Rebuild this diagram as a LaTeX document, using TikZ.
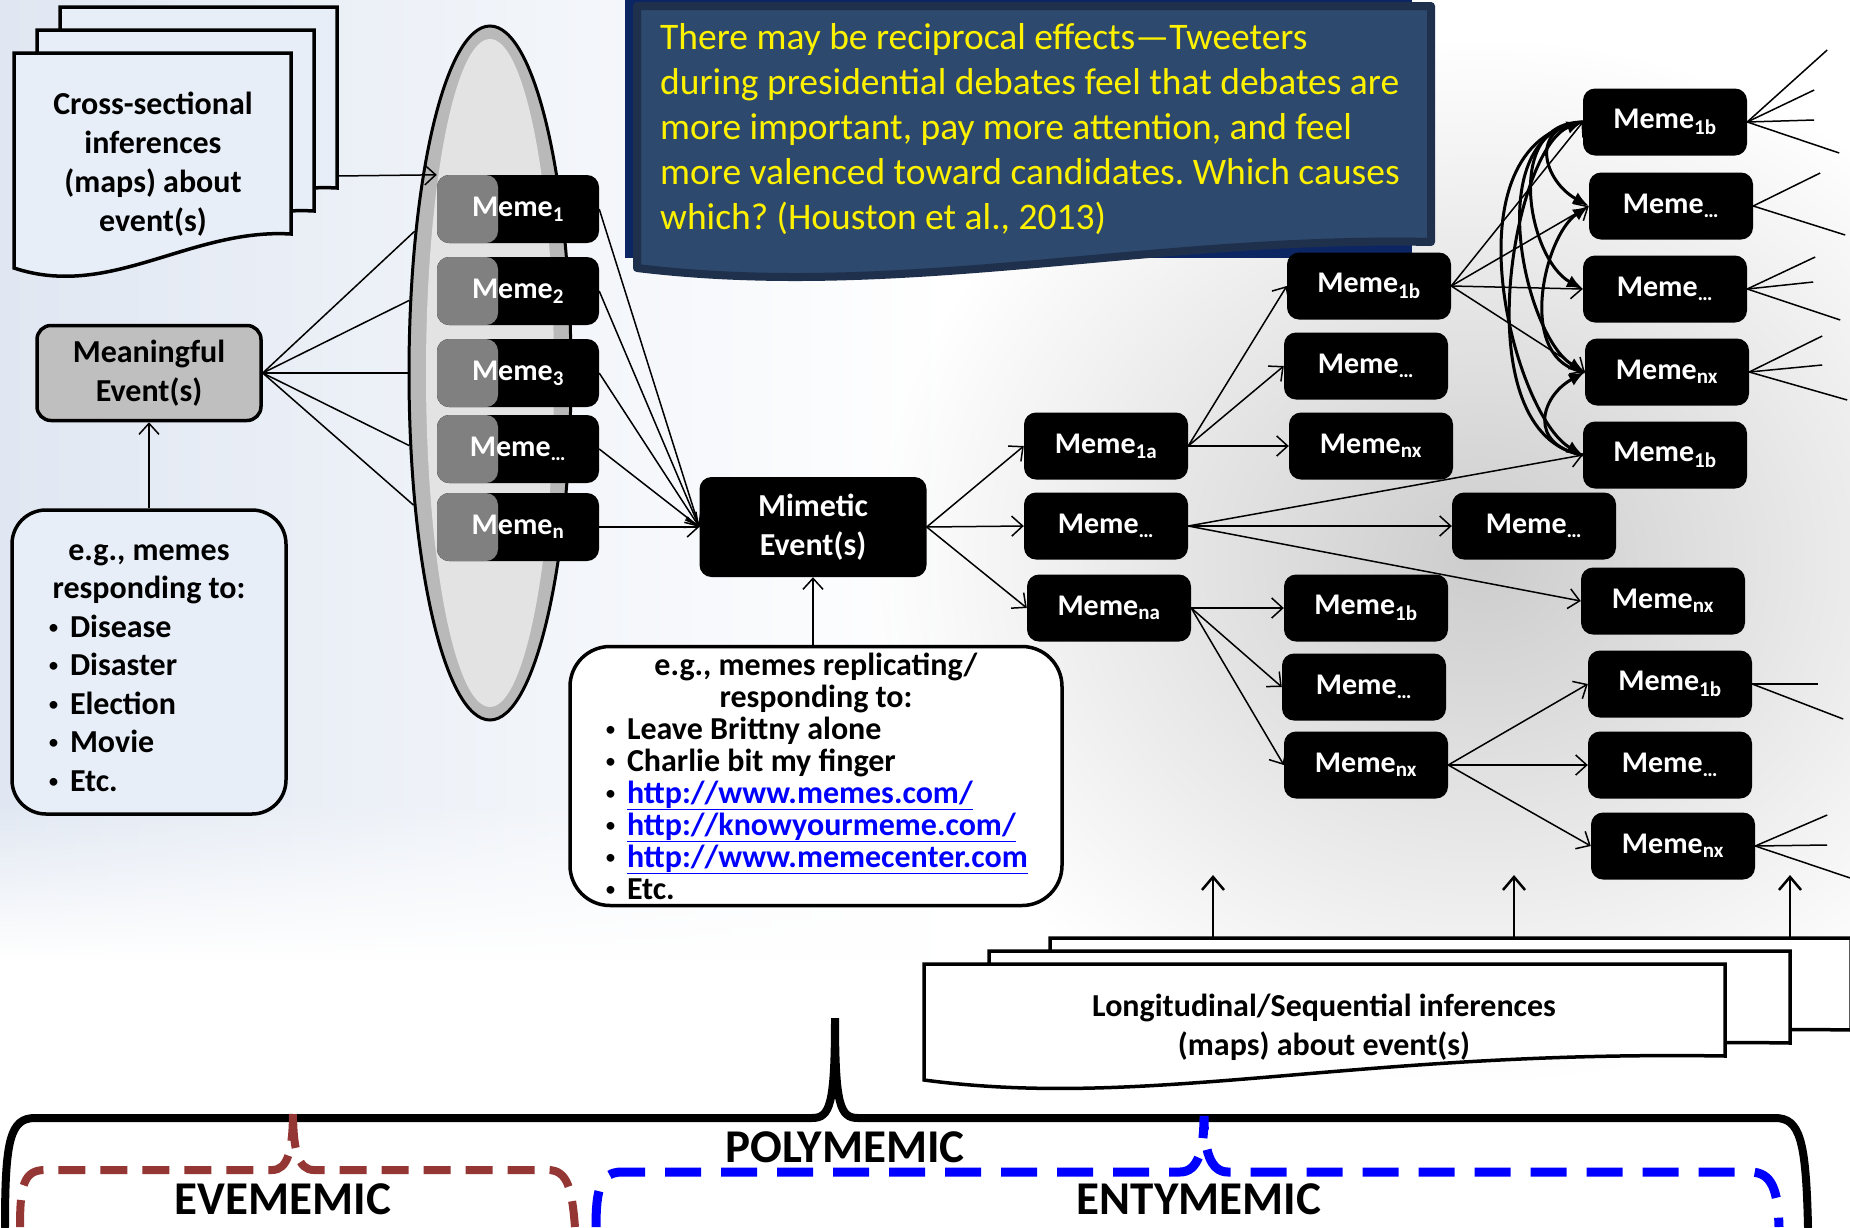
\documentclass[tikz,border=0pt]{standalone}
\usepackage{fontspec}
\setmainfont{Carlito}
\usetikzlibrary{arrows.meta, positioning, calc, shapes.geometric, fadings}
\frenchspacing

\definecolor{bgblue}{RGB}{224,231,242}
\definecolor{bggray}{RGB}{205,205,205}
\definecolor{sheetfill}{RGB}{232,238,247}
\definecolor{calloutfill}{RGB}{45,73,109}
\definecolor{calloutedge}{RGB}{30,48,76}
\definecolor{calloutback}{RGB}{12,38,100}
\definecolor{evebrown}{RGB}{148,54,52}
\definecolor{urlblue}{RGB}{0,0,255}
\definecolor{meaninggray}{RGB}{191,191,191}
\definecolor{memegray}{RGB}{128,128,128}

\tikzfading[name=softblob, inner color=transparent!0, outer color=transparent!100]
\tikzfading[name=fadeup, top color=transparent!100, bottom color=transparent!0]

\newcommand\memefont{\fontsize{30}{36}\selectfont\bfseries}
\newcommand\boxfont{\fontsize{32}{39}\selectfont\bfseries}
\newcommand\bracefont{\fontsize{47}{50}\selectfont\bfseries}
\newcommand\bul{\hspace*{24pt}\makebox[22pt][l]{\raisebox{3pt}{\fontsize{22}{22}\selectfont\mdseries\textbullet}}}
\newcommand\memesub[1]{Meme\textsubscript{#1}}
\newcommand\weblink[1]{\textcolor{urlblue}{\underline{#1}}}

\begin{document}
\begin{tikzpicture}[x=1pt, y=-1pt,
  meme/.style = {fill=black, text=white, rounded corners=12pt, minimum width=164pt,
    minimum height=67pt, inner sep=0pt, font=\memefont},
  ellmeme/.style = {meme, minimum width=162pt, minimum height=68pt,
    path picture={\fill[memegray] (path picture bounding box.south west)
      rectangle ([xshift=61pt]path picture bounding box.north west);}},
  link/.style = {line width=1.5pt, -{Straight Barb[length=11pt, width=20pt]}},
  spoke/.style = {line width=1.5pt},
  swirl/.style = {line width=3pt, -{Latex[length=16pt, width=13pt]}},
  uparrow/.style = {line width=2.5pt, -{Straight Barb[length=13pt, width=22pt]}},
  sheet/.style = {draw, line width=3.5pt, fill=white},
  egbox/.style = {draw, line width=3.5pt, rounded corners=34pt, inner sep=0pt, font=\boxfont},
  polybrace/.style = {line width=8pt, line cap=round}
]

% background
\useasboundingbox (0,0) rectangle (1850,1227);
\clip (0,0) rectangle (1850,1227);
\fill[white] (0,0) rectangle (1850,1227);
\shade[left color=bgblue, right color=white] (0,0) rectangle (950,1000);
\fill[bggray, path fading=softblob] (1480,560) ellipse (600 and 520);
\fill[white, path fading=fadeup] (0,800) rectangle (960,960);
\fill[white] (0,960) rectangle (960,1227);

% callout
\fill[calloutback] (625,0) rectangle (1412,258);
\draw[calloutedge, line width=8pt, fill=calloutfill, line join=round]
  (637,6) -- (1431,6) -- (1431,242) .. controls (1150,236) and (900,300) .. (637,268) -- cycle;
\node[anchor=north west, inner sep=0pt, text=yellow, align=left,
  font=\fontsize{37.5}{45}\selectfont] (callout) at (660,23) {There may be reciprocal effects---Tweeters\\
  during presidential debates feel that debates are\\
  more important, pay more attention, and feel\\
  more valenced toward candidates. Which causes\\
  which? (Houston et al., 2013)};

% cross-sectional document stack
\foreach \s in {46,23,0}
  \draw[sheet, fill=sheetfill, shift={(\s,-\s)}] (14,53) -- (291,53) -- (291,234)
    .. controls (190,228) and (110,300) .. (14,268) -- cycle;
\node[font=\boxfont, align=center] (crossdoc) at (153,164) {Cross-sectional\\inferences\\(maps) about\\event(s)};

% ellipse of memes
\node[ellipse, draw, line width=3pt, fill=gray!55, minimum width=162pt,
  minimum height=694pt, inner sep=0pt] (ell) at (490,373) {};
\fill[gray!22] (ell.center) ellipse (64 and 334);
\foreach \n/\y/\s in {1/209/1, 2/291/2, 3/373/3, 4/449/…, 5/527/n}
  \node[ellmeme] (m\n) at (518,\y) {\memesub{\s}};

% meaningful event and its examples
\node[draw, line width=3.5pt, fill=meaninggray, rounded corners=14pt, minimum width=224pt,
  minimum height=95pt, align=center, font=\boxfont] (meaning) at (149,373) {Meaningful\\Event(s)};
\node[egbox, fill=sheetfill, minimum width=274pt, minimum height=304pt] (egleft) at (149,662)
  {\begin{minipage}{250pt}\vspace*{12pt}\setlength\baselineskip{38.5pt}\centering e.g., memes\\responding to:\par
   \raggedright\bul Disease\\\bul Disaster\\\bul Election\\\bul Movie\\\bul Etc.\end{minipage}};

% mimetic event and its examples
\node[meme, minimum width=227pt, minimum height=100pt, align=center, font=\boxfont]
  (mimetic) at (813,527) {Mimetic\\Event(s)};
\node[egbox, fill=white, rounded corners=40pt, minimum width=492pt, minimum height=259pt] (egmid) at (816,776)
  {\begin{minipage}{470pt}\fontsize{32}{32}\selectfont\lineskiplimit=-100pt
   \centering e.g., memes replicating/\\responding to:\par
   \raggedright\bul Leave Brittny alone\\\bul Charlie bit my finger\\
   \bul \weblink{http://www.memes.com/}\\\bul \weblink{http://knowyourmeme.com/}\\
   \bul \weblink{http://www.memecenter.com}\\\bul Etc.\end{minipage}};

% meme tree
\foreach \n/\x/\y/\s in {a1/1106/446/1a, a2/1106/526/…, a3/1109/608/na,
  b1/1369/286/1b, b2/1366/366/…, b3/1371/446/nx, b4/1366/608/1b, b5/1364/687/…, b6/1366/765/nx,
  c1/1534/526/…,
  d1/1665/122/1b, d2/1671/206/…, d3/1665/289/…, d4/1667/372/nx, d5/1665/455/1b,
  d6/1663/601/nx, d7/1670/684/1b, d8/1670/765/…, d9/1673/846/nx}
  \node[meme] (\n) at (\x,\y) {\memesub{\s}};

% connectors
\foreach \a in {118,138,180,222,240}
  \draw[spoke] (meaning.east) -- (ell.\a);
\coordinate (docedge) at (337,176);
\draw[link] (docedge) -- (m1.north west);
\foreach \n in {1,...,5}
  \draw[link] (m\n.east) -- (mimetic.west);
\draw[link] (egleft.north) -- (meaning.south);
\draw[link] (egmid.north -| mimetic.south) -- (mimetic.south);
\foreach \u/\v in {mimetic/a1, mimetic/a2, mimetic/a3, a1/b1, a1/b2, a1/b3, a3/b4, a3/b5, a3/b6,
  a2/c1, a2/d5, a2/d6, b1/d1, b1/d2, b1/d3, b1/d4, b6/d7, b6/d8, b6/d9}
  \draw[link] (\u.east) -- (\v.west);

% reciprocal loops
\draw[swirl] (d1.west) .. controls +(-55,5) and +(-45,-25) .. (d2.west);
\draw[swirl] (d1.west) .. controls +(-80,0) and +(-55,-30) .. (d3.west);
\draw[swirl] (d1.west) .. controls +(-105,10) and +(-60,-35) .. (d4.west);
\draw[swirl] (d1.west) .. controls +(-140,20) and +(-70,-40) .. (d5.west);
\draw[swirl] (d5.west) .. controls +(-120,-20) and +(-70,25) .. (d1.west);
\draw[swirl] (d4.west) .. controls +(-70,-10) and +(-45,30) .. (d2.west);
\draw[swirl] (d5.west) .. controls +(-55,-10) and +(-45,25) .. (d4.west);

% fans on the right
\foreach \n/\dx/\dy [count=\i] in {d1/80/-72, d1/67/-32, d1/67/-2, d1/92/31, d2/67/-33, d2/92/29,
  d3/68/-32, d3/66/-7, d3/93/31, d4/73/-36, d4/73/-7, d4/98/28, d7/66/0, d7/91/35,
  d9/72/-31, d9/72/-1, d9/95/32}
{
  \coordinate (fan\i) at ($(\n.east)+(\dx,\dy)$);
  \draw[spoke] (\n.east) -- (fan\i);
}

% longitudinal document stack
\foreach \dx/\dy in {126/-26, 65/-13, 0/0}
  \draw[sheet, shift={(\dx,\dy)}] (924,964) -- (1725,964) -- (1725,1056)
    .. controls (1350,1050) and (1150,1110) .. (924,1080) -- cycle;
\node[font=\boxfont, align=center] (longdoc) at (1324,1027) {Longitudinal/Sequential inferences\\(maps) about event(s)};
\foreach \x [count=\i] in {1213,1514,1790}
{
  \coordinate (lt\i) at (\x,938);
  \coordinate (lh\i) at (\x,875);
  \draw[uparrow] (lt\i) -- (lh\i);
}

% braces
\draw[polybrace] (5,1227) .. controls (5,1140) and (10,1118) .. (35,1118) -- (812,1118)
  .. controls (830,1118) and (835,1105) .. (835,1018) .. controls (835,1105) and (840,1118) .. (858,1118)
  -- (1775,1118) .. controls (1800,1118) and (1806,1140) .. (1808,1227);
\draw[evebrown, line width=8pt, dash pattern=on 27pt off 15pt] (20,1227) .. controls (20,1185) and (24,1170) .. (45,1170)
  -- (272,1170) .. controls (288,1170) and (293,1150) .. (293,1110) .. controls (293,1150) and (298,1170) .. (314,1170)
  -- (548,1170) .. controls (568,1170) and (572,1190) .. (575,1227);
\draw[urlblue, line width=9pt, dash pattern=on 36pt off 20pt] (596,1227) .. controls (596,1190) and (600,1172) .. (622,1172)
  -- (1180,1172) .. controls (1198,1172) and (1204,1150) .. (1204,1116) .. controls (1204,1150) and (1210,1172) .. (1228,1172)
  -- (1750,1172) .. controls (1772,1172) and (1778,1190) .. (1779,1227);
\node[font=\bracefont] (poly) at (845,1147) {POLYMEMIC};
\node[font=\bracefont] (eve) at (283,1199) {EVEMEMIC};
\node[font=\bracefont] (enty) at (1199,1199) {ENTYMEMIC};

\end{tikzpicture}
\end{document}
